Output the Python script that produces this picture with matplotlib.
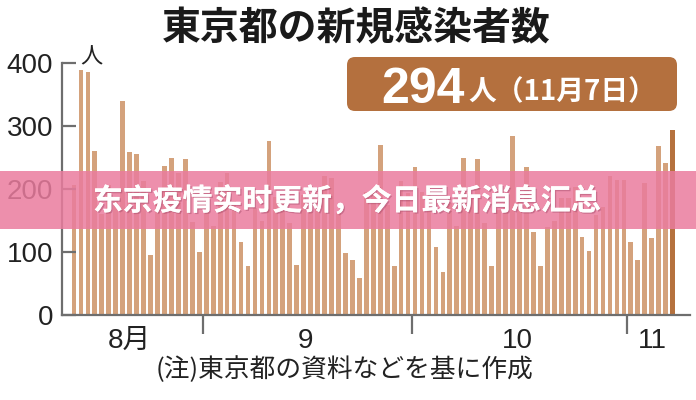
import matplotlib.pyplot as plt
import matplotlib.patheffects as pe
from matplotlib.patches import FancyBboxPatch, Rectangle
from matplotlib.transforms import IdentityTransform
import numpy as np
import pandas as pd

JP = ['Noto Sans CJK JP', 'DejaVu Sans']
SC = ['Noto Sans CJK SC', 'DejaVu Sans']
NUM = ['Liberation Sans', 'Noto Sans CJK JP']

# daily new cases, Aug 13 -> Nov 7
aug = [206, 389, 385, 260, 161, 207, 186, 339, 258, 256, 212, 95, 182, 236, 250, 226, 247, 148, 100]
sep = [170, 141, 211, 226, 181, 116, 77, 170, 149, 276, 187, 181, 146, 80, 191, 163, 172, 220, 218, 162,
       98, 88, 59, 195, 195, 270, 174, 78, 212, 194]
octo = [235, 196, 207, 108, 68, 177, 142, 250, 186, 248, 146, 78, 166, 177, 284, 185, 235, 132, 78, 139,
        150, 185, 186, 203, 124, 102, 158, 171, 221, 215, 215]
nov = [116, 87, 209, 122, 269, 242, 294]
cases = aug + sep + octo + nov
dates = pd.date_range('2020-08-13', periods=len(cases))

yticks = [0, 100, 200, 300, 400]
month_labels = ['8月', '9', '10', '11']
month_label_pos = [7.9, 33.3, 63.7, 83.1]

title = '東京都の新規感染者数'
latest_num = '294'
latest_txt = '人（11月7日）'
note = '(注)東京都の資料などを基に作成'
banner = '东京疫情实时更新，今日最新消息汇总'

bar_c = '#D4A27C'
last_c = '#B5713D'
axis_c = '#6E6E6E'

fig = plt.figure(figsize=(6.96, 4.0), dpi=100)
fig.patch.set_facecolor('white')
ax = fig.add_axes([62 / 696, 1 - 315 / 400, (690 - 62) / 696, (315 - 63) / 400])

x = np.arange(len(cases))
colors = [bar_c] * len(cases)
colors[-1] = last_c
ax.bar(x, cases, width=0.68, color=colors, linewidth=0)

ax.set_xlim(-1.72, 88.5)
ax.set_ylim(0, 400)
for s in ['top', 'right']:
    ax.spines[s].set_visible(False)
for s in ['left', 'bottom']:
    ax.spines[s].set_color(axis_c)
    ax.spines[s].set_linewidth(1.6)

ax.set_yticks(yticks)
ax.set_yticklabels([str(v) for v in yticks], family=NUM, fontsize=20, color='#222222')
ax.tick_params(axis='y', direction='in', length=10, width=1.6, color=axis_c, pad=6.5)

# month boundaries
months = dates.month
bounds = [i - 0.5 for i in range(1, len(dates)) if months[i] != months[i - 1]]
ax.set_xticks(bounds)
ax.set_xticklabels([])
ax.tick_params(axis='x', direction='out', length=14, width=1.6, color=axis_c)
for pos, lab in zip(month_label_pos, month_labels):
    ax.text(pos, -33 / 252, lab, transform=ax.get_xaxis_transform(), ha='center', va='baseline',
            fontsize=20, family=NUM, color='#222222')

fig.text(91 / 696, 1 - 57 / 400, '人', family=JP, fontsize=16, ha='center', va='center', color='#222222')

fig.text(356 / 696, 1 - 29 / 400, title, family=JP, fontsize=28, weight='bold', ha='center', va='center',
         color='#1a1a1a')

box = FancyBboxPatch((347, 400 - 111), 330, 54, boxstyle='round,pad=0,rounding_size=8',
                     transform=IdentityTransform(), facecolor='#B4703E', edgecolor='none')
fig.add_artist(box)
fig.text(465 / 696, 1 - 103 / 400, latest_num, family=NUM, fontsize=36, weight='bold', color='white',
         ha='right', va='baseline')
fig.text(468 / 696, 1 - 100 / 400, latest_txt, family=JP, fontsize=20, weight='bold', color='white',
         ha='left', va='baseline')

fig.text(345 / 696, 1 - 370 / 400, note, family=JP, fontsize=18.5, ha='center', va='center', color='#222222')

# pink overlay banner
fig.add_artist(Rectangle((0, 1 - 229 / 400), 1, 58 / 400, transform=fig.transFigure,
                         facecolor='#EA7C9E', edgecolor='none', alpha=0.85, zorder=10))
t = fig.text(93 / 696, 1 - 201 / 400, banner, family=SC, fontsize=21.5, weight='bold', color='white',
             ha='left', va='center', zorder=11)
t.set_path_effects([pe.withSimplePatchShadow(offset=(1, -1), shadow_rgbFace='#9a4060', alpha=0.4),
                    pe.Normal()])

fig.savefig('out.png', dpi=100)
